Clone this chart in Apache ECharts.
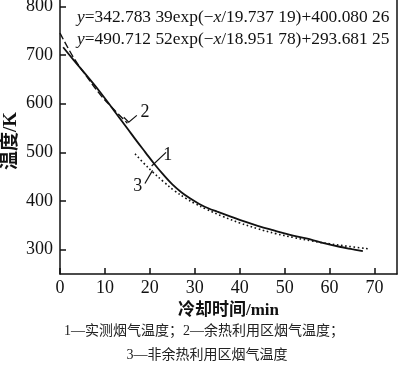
<!DOCTYPE html>
<html><head><meta charset="utf-8">
<script src="https://cdn.jsdelivr.net/npm/echarts@6/dist/echarts.min.js"></script>
<style>html,body{margin:0;padding:0;background:#fff}#c{width:400px;height:368px}</style>
</head><body><div id="c"></div>
<script>
// ---- data ----
const xTickValues = [0, 10, 20, 30, 40, 50, 60, 70];
const yTickValues = [300, 400, 500, 600, 700, 800];

// 1 — measured flue gas temperature
const measuredX = [0.7, 3, 6, 9, 12, 15, 17, 19, 21, 23, 25, 27, 29, 31, 33, 35, 38, 41, 44, 47.4, 51, 54.8, 58, 62.2, 65, 67.4];
const measuredY = [716, 690, 657, 623, 586, 549, 524, 500, 476, 454, 434, 418, 405, 394, 385, 378, 368, 358, 349, 340, 331, 323, 315, 306, 301, 297];

// 2 — waste-heat utilisation zone
const wasteX = [0, 3, 6, 9, 12, 15];
const wasteY = [745, 695, 655, 618, 588, 560];

// 3 — non waste-heat utilisation zone
const nonWasteX = [16.7, 18.5, 20.7, 23, 25.5, 28.1, 30, 32.6, 36.3, 40, 44, 48, 52, 56, 60, 64, 68.5];
const nonWasteY = [497, 479, 459, 440, 421, 405, 395, 383, 368, 355, 343, 333, 325, 318, 312, 307, 302];

const formula1 = '{i|y}=342.783 39exp(−{i|x}/19.737 19)+400.080 26';
const formula2 = '{i|y}=490.712 52exp(−{i|x}/18.951 78)+293.681 25';
const xName = '冷却时间/min';
const yName = '温度/K';
const caption1 = '1—实测烟气温度；2—余热利用区烟气温度；';
const caption2 = '3—非余热利用区烟气温度';
const curveLabels = ['1', '2', '3'];

// ---- chart ----
const pair = (xs, ys) => xs.map((x, i) => [x, ys[i]]);
const SERIF = "'Liberation Serif','Times New Roman','Noto Sans CJK SC',serif";
const INK = '#111';
const chart = echarts.init(document.getElementById('c'), null, {renderer: 'canvas'});

const yMin = 250, yMax = 813;
chart.setOption({
  animation: false,
  backgroundColor: '#fff',
  grid: {left: 60, right: 3, top: 0, bottom: 94, containLabel: false, outerBoundsMode: 'none'},
  xAxis: {
    type: 'value', min: 0, max: 75, interval: 10,
    axisLine: {show: true, onZero: false, lineStyle: {color: INK, width: 1.5}},
    axisTick: {show: true, inside: true, length: 6, lineStyle: {color: INK, width: 1.5}, customValues: xTickValues},
    axisLabel: {color: INK, fontFamily: SERIF, fontSize: 18, margin: 5, customValues: xTickValues},
    splitLine: {show: false},
    name: xName, nameLocation: 'middle', nameGap: 22,
    nameTextStyle: {color: INK, fontFamily: SERIF, fontSize: 17, fontWeight: 'bold'}
  },
  yAxis: [{
    type: 'value', min: yMin, max: yMax, position: 'left',
    axisLine: {show: true, onZero: false, lineStyle: {color: INK, width: 1.5}},
    axisTick: {show: true, inside: true, length: 6, lineStyle: {color: INK, width: 1.5}, customValues: yTickValues},
    axisLabel: {color: INK, fontFamily: SERIF, fontSize: 18, margin: 7, customValues: yTickValues},
    splitLine: {show: false}
  }, {
    type: 'value', min: yMin, max: yMax, position: 'right',
    axisLine: {show: true, onZero: false, lineStyle: {color: INK, width: 1.5}},
    axisTick: {show: false}, axisLabel: {show: false}, splitLine: {show: false}
  }],
  series: [
    {type: 'line', data: pair(measuredX, measuredY), smooth: 0.4, showSymbol: false,
      lineStyle: {color: INK, width: 1.8}, z: 3},
    {type: 'line', data: pair(wasteX, wasteY), smooth: 0.4, showSymbol: false,
      lineStyle: {color: INK, width: 1.4, type: [7, 3]}, z: 2},
    {type: 'line', data: pair(nonWasteX, nonWasteY), smooth: 0.4, showSymbol: false,
      lineStyle: {color: INK, width: 1.6, type: [1.6, 2.6]}, z: 2}
  ]
});

// annotations (leader lines + numbers) placed in data coordinates
const leaders = [
  {label: curveLabels[0], text: [24, 494], path: [[20.4, 472], [23.6, 500]]},
  {label: curveLabels[1], text: [18.9, 582], path: [[14.2, 572], [15.3, 562], [17.1, 576]]},
  {label: curveLabels[2], text: [17.3, 430], path: [[18.9, 436], [20.6, 463]]}
];
const px = p => chart.convertToPixel({gridIndex: 0}, p);
const graphics = [];
leaders.forEach(l => {
  graphics.push({type: 'polyline', shape: {points: l.path.map(px)}, style: {stroke: INK, lineWidth: 1.2, fill: null}, z: 10});
  const t = px(l.text);
  graphics.push({type: 'text', x: t[0], y: t[1], style: {text: l.label, font: "18px " + SERIF, fill: INK, align: 'center', verticalAlign: 'middle'}, z: 10});
});
const rich = {i: {fontStyle: 'italic', fontFamily: SERIF, fontSize: 17.4, fill: INK}};
graphics.push({type: 'text', x: 77, y: 17, style: {text: formula1, fontFamily: SERIF, fontSize: 17.4, fill: INK, verticalAlign: 'middle', rich: rich}, z: 10});
graphics.push({type: 'text', x: 77, y: 39, style: {text: formula2, fontFamily: SERIF, fontSize: 17.4, fill: INK, verticalAlign: 'middle', rich: rich}, z: 10});
graphics.push({type: 'text', x: 11, y: 141, rotation: Math.PI / 2, style: {text: yName, fontFamily: SERIF, fontSize: 19, fontWeight: 'bold', fill: INK, align: 'center', verticalAlign: 'middle'}, z: 10});
graphics.push({type: 'text', x: 204, y: 331, style: {text: caption1, fontFamily: SERIF, fontSize: 14, fill: '#222', align: 'center', verticalAlign: 'middle'}});
graphics.push({type: 'text', x: 207, y: 355, style: {text: caption2, fontFamily: SERIF, fontSize: 14, fill: '#222', align: 'center', verticalAlign: 'middle'}});
chart.setOption({graphic: graphics});
</script>
</body></html>
